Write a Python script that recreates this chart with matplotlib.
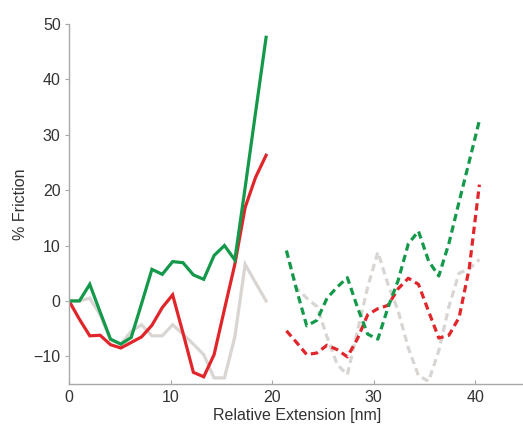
import matplotlib
matplotlib.use("Agg")
import matplotlib.pyplot as plt

# Left (solid) segment
x_solid = [0.0, 1.02, 2.04, 3.06, 4.08, 5.1, 6.12, 7.14, 8.16, 9.18,
           10.2, 11.22, 12.24, 13.26, 14.28, 15.3, 16.32, 17.34, 18.36, 19.4]
green_solid = [0, 0, 3.0, -2.0, -6.9, -7.8, -6.6, -0.5, 5.7, 4.8,
               7.1, 6.9, 4.7, 3.9, 8.2, 10.0, 7.4, 20.5, 34.0, 47.6]
red_solid = [0, -3.3, -6.3, -6.2, -7.9, -8.5, -7.5, -6.5, -4.4, -1.2,
             1.1, -5.8, -12.9, -13.7, -9.7, -1.5, 6.6, 16.9, 22.3, 26.3]
gray_solid = [0, 0, 0.5, -2.5, -7.0, -7.8, -5.5, -4.3, -6.3, -6.3,
              -4.3, -6.0, -7.8, -9.7, -13.9, -13.9, -6.5, 6.6, 3.3, 0.0]

# Right (dashed) segment
x_dash = [21.4, 22.4, 23.4, 24.4, 25.4, 26.4, 27.4, 28.4, 29.4, 30.4,
          31.4, 32.4, 33.4, 34.4, 35.4, 36.4, 37.4, 38.4, 39.4, 40.4]
green_dash = [9.1, 2.0, -4.5, -3.5, 0.5, 2.5, 4.2, -1.2, -6.0, -6.9,
              -1.2, 3.7, 10.3, 12.6, 7.2, 4.5, 10.4, 17.9, 25.2, 32.6]
red_dash = [-5.4, -7.5, -9.7, -9.4, -8.0, -8.8, -10.1, -6.8, -2.5, -1.4,
            -0.8, 2.2, 4.1, 3.0, -1.9, -6.7, -6.2, -3.0, 5.9, 21.0]
gray_dash = [9.0, 2.3, 0.5, -1.0, -6.5, -11.5, -13.3, -5.4, 2.5, 8.8,
             3.0, -1.8, -8.5, -13.5, -14.5, -9.0, -1.0, 5.0, 5.8, 7.5]

x_ticks = [0, 10, 20, 30, 40]
y_ticks = [-10, 0, 10, 20, 30, 40, 50]

GREEN = "#14994a"
RED = "#e0262b"
GRAY = "#d9d5d2"
TEXT = "#333333"
SPINE = "#a8a8a8"

plt.rcParams['font.family'] = ['Liberation Sans', 'DejaVu Sans']

fig = plt.figure(figsize=(5.23, 4.25), dpi=100)
ax = fig.add_axes([0.132, 0.0965, 0.874, 0.847])

lw = 2.3
dash = (2.3, 1.4)
ax.plot(x_solid, gray_solid, color=GRAY, lw=lw, solid_joinstyle='miter')
ax.plot(x_dash, gray_dash, color=GRAY, lw=lw, dashes=dash)
ax.plot(x_solid, red_solid, color=RED, lw=lw, solid_joinstyle='miter')
ax.plot(x_dash, red_dash, color=RED, lw=lw, dashes=dash)
ax.plot(x_solid, green_solid, color=GREEN, lw=lw, solid_joinstyle='miter')
ax.plot(x_dash, green_dash, color=GREEN, lw=lw, dashes=dash)

ax.set_xlim(0, 45)
ax.set_ylim(-15, 50)
ax.set_xticks(x_ticks)
ax.set_yticks(y_ticks)
ax.set_yticklabels(["\u221210" if v < 0 else str(v) for v in y_ticks])

for s in ["top", "right"]:
    ax.spines[s].set_visible(False)
for s in ["left", "bottom"]:
    ax.spines[s].set_color(SPINE)
    ax.spines[s].set_linewidth(1.0)

ax.tick_params(axis='y', direction='out', length=3, width=0.8, color=SPINE,
               labelsize=11.5, labelcolor=TEXT, pad=3)
ax.tick_params(axis='x', direction='in', length=3, width=0.8, color=SPINE,
               labelsize=11.5, labelcolor=TEXT, pad=4)

ax.set_xlabel("Relative Extension [nm]", fontsize=11.5, color=TEXT, labelpad=2.5)
ax.set_ylabel("% Friction", fontsize=11.5, color=TEXT, labelpad=4)

fig.savefig("out.png", dpi=100)
